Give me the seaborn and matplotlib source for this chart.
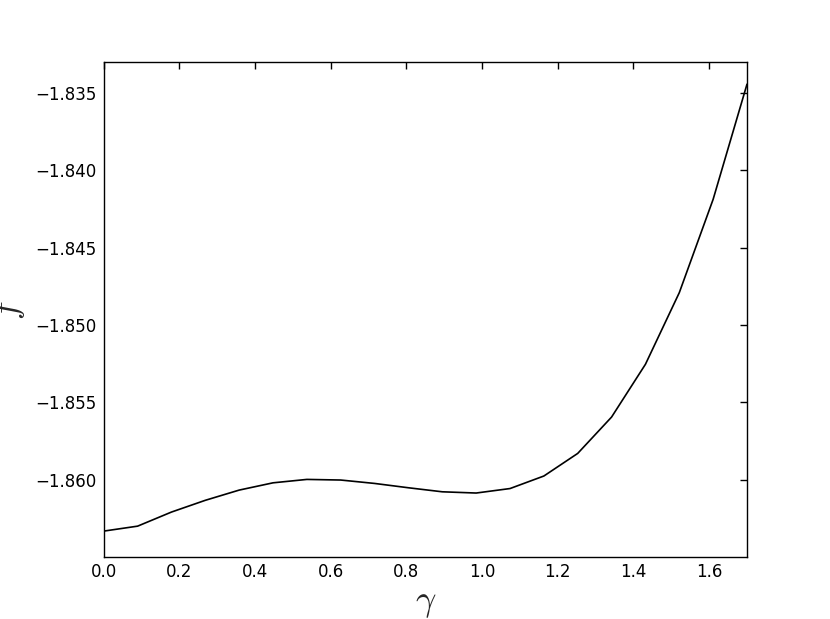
import numpy as np
import pandas as pd
import seaborn as sns
import matplotlib
matplotlib.use("Agg")
import matplotlib.pyplot as plt

gamma = [0.0, 0.0895, 0.1789, 0.2684, 0.3579, 0.4474, 0.5368, 0.6263, 0.7158,
         0.8053, 0.8947, 0.9842, 1.0737, 1.1632, 1.2526, 1.3421, 1.4316,
         1.5211, 1.6105, 1.7]
f_vals = [-1.86332, -1.86300, -1.86209, -1.86133, -1.86067, -1.86020, -1.85998,
          -1.86002, -1.86024, -1.86052, -1.86078, -1.86086, -1.86057, -1.85976,
          -1.85830, -1.85595, -1.85254, -1.84791, -1.84188, -1.83444]
yticks = [-1.860, -1.855, -1.850, -1.845, -1.840, -1.835]
xticks = [0.0, 0.2, 0.4, 0.6, 0.8, 1.0, 1.2, 1.4, 1.6]

sns.set_style("white")
plt.rcParams["font.family"] = ["DejaVu Sans"]
plt.rcParams["mathtext.fontset"] = "cm"

df = pd.DataFrame({"gamma": gamma, "f": f_vals})

fig = plt.figure(figsize=(8.3, 6.19), dpi=100)
ax = fig.add_axes([0.125, 0.1, 0.775, 0.8])
sns.lineplot(data=df, x="gamma", y="f", ax=ax, color="black", linewidth=1.2)

ax.set_xlim(0, 1.7)
ax.set_ylim(-1.865, -1.833)
ax.set_xticks(xticks)
ax.set_yticks(yticks)
ax.set_xticklabels([f"{v:.1f}" for v in xticks])
ax.set_yticklabels([f"\u2212{abs(v):.3f}" for v in yticks])
ax.tick_params(direction="in", length=5, width=1, top=True, right=True,
               labelsize=12, colors="black")
ax.tick_params(axis="x", pad=4)
ax.tick_params(axis="y", pad=5)
for s in ax.spines.values():
    s.set_color("black")
    s.set_linewidth(1)
ax.set_xlabel(r"$\gamma$", fontsize=26, labelpad=4)
ax.set_ylabel(r"$f$", fontsize=26, labelpad=6)
fig.savefig("out.png", dpi=100)
